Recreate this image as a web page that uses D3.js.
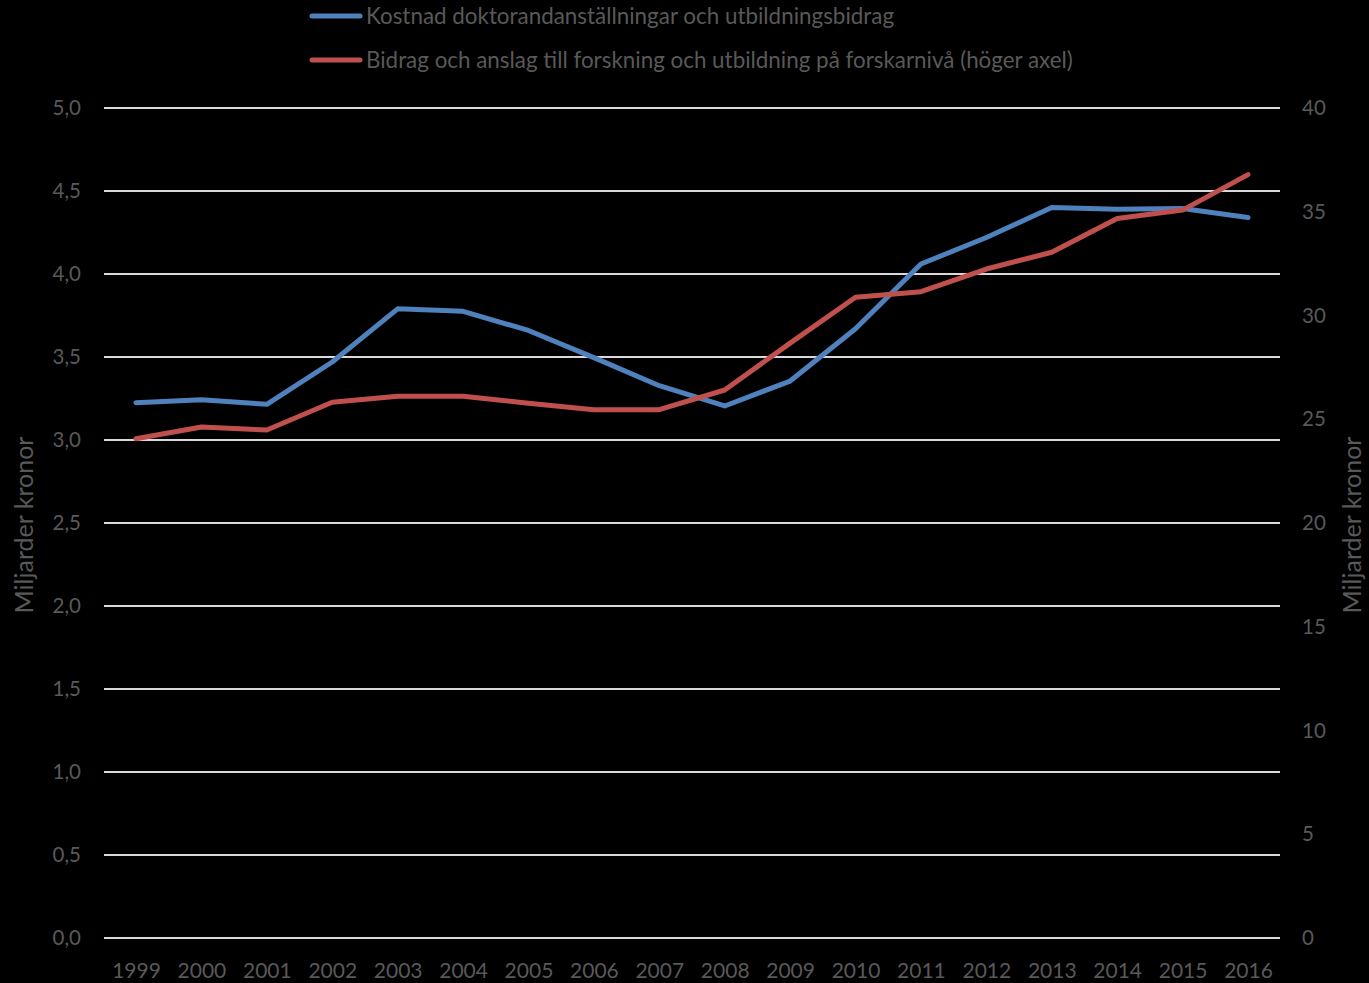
<!DOCTYPE html>
<html><head><meta charset="utf-8">
<script src="https://cdn.jsdelivr.net/npm/d3@7"></script>
<style>
html,body{margin:0;padding:0;background:#000;}
svg{display:block;}
text{font-family:Lato,"Open Sans",sans-serif;fill:#595959;}
</style></head>
<body>
<svg id="chart" width="1369" height="983"></svg>
<script>
const years = ["1999","2000","2001","2002","2003","2004","2005","2006","2007","2008","2009","2010","2011","2012","2013","2014","2015","2016"];
const kostnad = [3.225,3.243,3.215,3.47,3.79,3.775,3.66,3.496,3.327,3.205,3.355,3.67,4.06,4.22,4.40,4.39,4.395,4.34];
const bidrag = [24.06,24.63,24.48,25.82,26.11,26.11,25.77,25.46,25.46,26.41,28.67,30.88,31.15,32.24,33.05,34.67,35.08,36.79];
const leftTicks = [0,0.5,1,1.5,2,2.5,3,3.5,4,4.5,5];
const rightTicks = [0,5,10,15,20,25,30,35,40];
const seriesNames = ["Kostnad doktorandanställningar och utbildningsbidrag","Bidrag och anslag till forskning och utbildning på forskarnivå (höger axel)"];
const axisTitle = "Miljarder kronor";

const svg = d3.select("#chart");
const plot = {left:104, right:1280, top:108, bottom:938};
const x = d3.scalePoint().domain(years).range([136,1248]);
const yL = d3.scaleLinear().domain([0,5]).range([plot.bottom, plot.top]);
const yR = d3.scaleLinear().domain([0,40]).range([plot.bottom, plot.top]);
const fmt = v => d3.format(".1f")(v).replace(".", ",");

// gridlines
svg.append("g").selectAll("line").data(leftTicks).join("line")
  .attr("x1",plot.left).attr("x2",plot.right)
  .attr("y1",d=>yL(d)).attr("y2",d=>yL(d))
  .attr("stroke","#d9d9d9").attr("stroke-width",2);

// left axis
const la = svg.append("g").attr("transform",`translate(${plot.left},0)`)
  .call(d3.axisLeft(yL).tickValues(leftTicks).tickFormat(fmt).tickSize(0).tickPadding(23));
la.select(".domain").remove();
la.selectAll("text").attr("font-size",20.5).style("font-family","Lato,sans-serif").attr("fill","#595959");

// right axis
const ra = svg.append("g").attr("transform",`translate(${plot.right},0)`)
  .call(d3.axisRight(yR).tickValues(rightTicks).tickFormat(d3.format("d")).tickSize(0).tickPadding(22));
ra.select(".domain").remove();
ra.selectAll("text").attr("font-size",20.5).style("font-family","Lato,sans-serif").attr("fill","#595959");

// x axis
const xa = svg.append("g").attr("transform",`translate(0,${plot.bottom})`)
  .call(d3.axisBottom(x).tickSize(0).tickPadding(25));
xa.select(".domain").remove();
xa.selectAll("text").attr("font-size",21).style("font-family","Lato,sans-serif").attr("fill","#595959");

// axis titles
svg.append("text").attr("transform","translate(33,525) rotate(-90)")
  .attr("text-anchor","middle").attr("font-size",25).text(axisTitle);
svg.append("text").attr("transform","translate(1361,525) rotate(-90)")
  .attr("text-anchor","middle").attr("font-size",25).text(axisTitle);

// lines
const lineL = d3.line().x((d,i)=>x(years[i])).y(d=>yL(d));
const lineR = d3.line().x((d,i)=>x(years[i])).y(d=>yR(d));
svg.append("path").datum(kostnad).attr("d",lineL).attr("fill","none")
  .attr("stroke","#4F81BD").attr("stroke-width",5).attr("stroke-linecap","round").attr("stroke-linejoin","round");
svg.append("path").datum(bidrag).attr("d",lineR).attr("fill","none")
  .attr("stroke","#C0504D").attr("stroke-width",5).attr("stroke-linecap","round").attr("stroke-linejoin","round");

// legend
const legendColors = ["#4F81BD","#C0504D"];
const lg = svg.append("g").selectAll("g").data(seriesNames).join("g")
  .attr("transform",(d,i)=>`translate(0,${16+i*44})`);
lg.append("line").attr("x1",312).attr("x2",360).attr("y1",0).attr("y2",0)
  .attr("stroke",(d,i)=>legendColors[i]).attr("stroke-width",5).attr("stroke-linecap","round");
lg.append("text").attr("x",366).attr("y",0).attr("dy","0.35em").attr("font-size",22.4).text(d=>d);
</script>
</body></html>
